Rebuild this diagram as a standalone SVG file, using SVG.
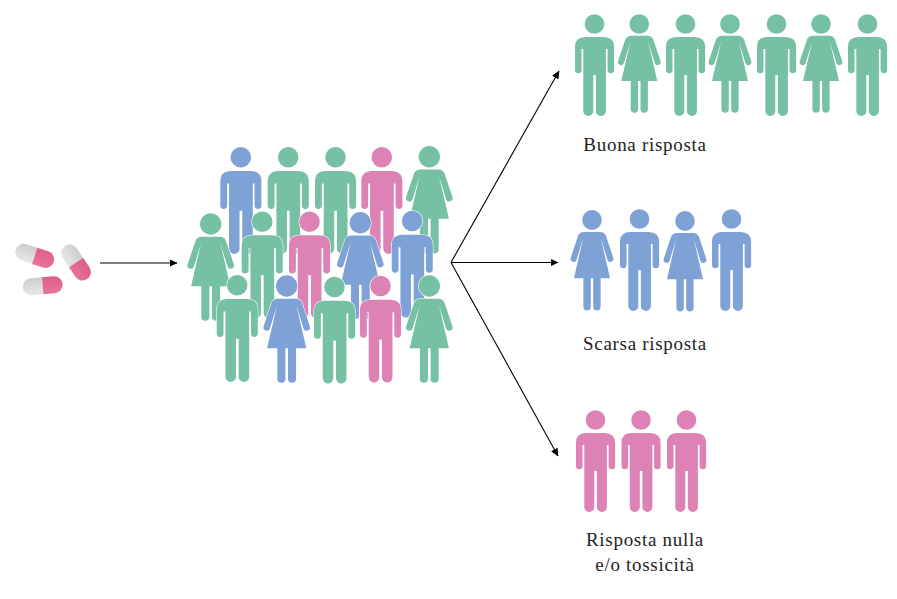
<svg xmlns="http://www.w3.org/2000/svg" width="897" height="599" viewBox="0 0 897 599">
<style>
.g{fill:#76c0a3}.b{fill:#7ea1d6}.p{fill:#dd82b5}
.crowd use{stroke:#fff;stroke-width:1;paint-order:stroke}
.c{stroke:#000;stroke-width:1.1;fill:none;marker-end:url(#a)}
text{font-family:"Liberation Serif",serif;font-size:19px;fill:#222;text-anchor:middle;letter-spacing:.7px}
</style>
<defs>
<marker id="a" markerWidth="8" markerHeight="8" refX="7.5" refY="4" orient="auto" markerUnits="userSpaceOnUse"><path d="M0 .3L8 4L0 7.7Z" fill="#000"/></marker>
<linearGradient id="gr" x1="0" y1="0" x2="0" y2="1"><stop offset="0" stop-color="#cdcdcd"/><stop offset="1" stop-color="#e8e8e8"/></linearGradient>
<linearGradient id="pk" x1="0" y1="0" x2="0" y2="1"><stop offset="0" stop-color="#dc5f88"/><stop offset="1" stop-color="#ea7299"/></linearGradient>
<g id="m"><circle r="9.8"/><path d="M-9 13H9Q19.6 13 19.6 23V46a3.25 3.25 0 0 1-6.5 0V25H11.4V87a5 5 0 0 1-10 0V51H-1.2V87a5 5 0 0 1-10 0V25H-13V46a3.25 3.25 0 0 1-6.5 0V23Q-19.6 13-9 13Z"/></g>
<g id="f"><circle r="9.8"/><path d="M-8 11.7H8Q12.5 11.7 14 15.5L21.2 37a3 3 0 0 1-5.8 2L8.8 17.5 18 57H8.6V85a3.7 3.7 0 0 1-7.4 0V57H-1.2V85a3.7 3.7 0 0 1-7.4 0V57H-18L-8.8 17.5-15.4 39a3 3 0 0 1-5.8-2L-14 15.5Q-12.5 11.7-8 11.7Z"/></g>
<g id="pill"><path d="M0-8.5H-11.5a8.5 8.5 0 0 0 0 17H0Z" fill="url(#gr)"/><path d="M0-8.5H11.5a8.5 8.5 0 0 1 0 17H0Z" fill="url(#pk)"/></g>
</defs>
<rect width="897" height="599" fill="#fff"/>
<g id="pills"><use href="#pill" transform="translate(34.7 255.8) rotate(18)"/><use href="#pill" transform="translate(76 262.5) rotate(56)"/><use href="#pill" transform="translate(42.7 285.7) rotate(-5)"/></g>
<g id="connectors">
<path class="c" d="M100 263H177"/>
<path class="c" d="M451 262.5L559 71"/>
<path class="c" d="M451 262.5H558"/>
<path class="c" d="M451 262.5L558 456"/>
</g>
<g id="crowd" class="crowd">
<use href="#m" class="b" transform="translate(240.8 157.3) scale(1.05)"/>
<use href="#m" class="g" transform="translate(288.2 157.3) scale(1.05)"/>
<use href="#m" class="g" transform="translate(335.5 157.3) scale(1.05)"/>
<use href="#m" class="p" transform="translate(381.8 157.3) scale(1.05)"/>
<use href="#f" class="g" transform="translate(429.3 156.7) scale(1.09 1.09)"/>
<use href="#f" class="g" transform="translate(210.7 224) scale(1.09 1.09)"/>
<use href="#m" class="g" transform="translate(262.2 221.7) scale(1.05)"/>
<use href="#m" class="p" transform="translate(309.5 221.7) scale(1.05)"/>
<use href="#f" class="b" transform="translate(360.3 222.7) scale(1.09 1.09)"/>
<use href="#m" class="b" transform="translate(412.2 221) scale(1.05)"/>
<use href="#m" class="g" transform="translate(237.2 285.3) scale(1.05)"/>
<use href="#f" class="b" transform="translate(286.7 286) scale(1.09 1.09)"/>
<use href="#m" class="g" transform="translate(334.5 287) scale(1.05)"/>
<use href="#m" class="p" transform="translate(380.5 286) scale(1.05)"/>
<use href="#f" class="g" transform="translate(429.3 286) scale(1.09 1.09)"/>
</g>
<g id="good">
<use href="#m" class="g" transform="translate(594.5 24)"/><use href="#f" class="g" transform="translate(639.3 24)"/><use href="#m" class="g" transform="translate(685.5 24)"/><use href="#f" class="g" transform="translate(730 24)"/><use href="#m" class="g" transform="translate(776.5 24)"/><use href="#f" class="g" transform="translate(821 24)"/><use href="#m" class="g" transform="translate(867.5 24)"/>
<text x="645" y="151">Buona risposta</text>
</g>
<g id="poor">
<use href="#f" class="b" transform="translate(592 220) scale(1 1.02)"/><use href="#m" class="b" transform="translate(639.5 219)"/><use href="#f" class="b" transform="translate(685 221) scale(1 1.02)"/><use href="#m" class="b" transform="translate(731.5 219)"/>
<text x="645" y="350">Scarsa risposta</text>
</g>
<g id="none">
<use href="#m" class="p" transform="translate(595.5 420)"/><use href="#m" class="p" transform="translate(641 420)"/><use href="#m" class="p" transform="translate(686.5 420)"/>
<text x="645" y="546">Risposta nulla</text>
<text x="645" y="571">e/o tossicità</text>
</g>
</svg>
